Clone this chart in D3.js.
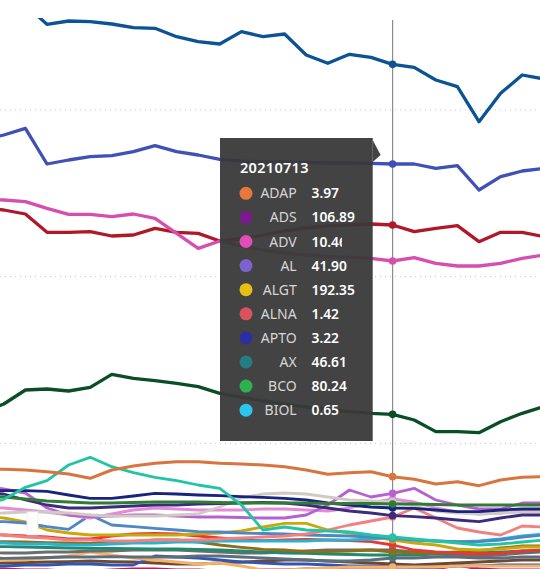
<!DOCTYPE html>
<html>
<head>
<meta charset="utf-8">
<script src="https://cdnjs.cloudflare.com/ajax/libs/d3/7.8.5/d3.min.js"></script>
<style>
    html, body { margin: 0; padding: 0; background: #fff; overflow: hidden; }
</style>
</head>
<body>
<script>
const width = 540;
const height = 569;

const dates = [
    "20210615", "20210616", "20210617", "20210618", "20210621", "20210622", "20210623",
    "20210624", "20210625", "20210628", "20210629", "20210630", "20210701", "20210702",
    "20210706", "20210707", "20210708", "20210709", "20210712", "20210713", "20210714",
    "20210715", "20210716", "20210719", "20210720", "20210721", "20210722"
];
const hoverDate = "20210713";
const gridValues = [100, 200, 300];

// big lines
const lineDarkBlue = [378, 372, 363, 351.4, 353.4, 353, 351.6, 349.4, 349, 344, 341, 339.6, 347, 344, 345.6, 333, 328, 333.4, 331.6, 327.4, 325.6, 318, 314, 293, 310, 321, 318.6];
const lineIndigo = [282, 285, 289, 267.6, 270, 272, 272.6, 275, 278.6, 275, 273, 270.4, 269.4, 268.8, 268.8, 268.5, 268.2, 268.2, 268, 267.6, 267.6, 265, 266.6, 252, 260, 263.4, 265];
const linePink = [246.6, 246, 245, 241, 237.4, 237.4, 236, 237.6, 235, 226, 217, 221.4, 218.4, 216, 214.2, 213, 212.1, 211.5, 211, 209.4, 211.4, 208, 206.4, 206.4, 208, 211, 213];
const lineCrimson = [241.2, 240, 237.6, 226.6, 226.6, 227, 224.4, 225, 229, 226.6, 226, 221.4, 222.6, 225, 227.4, 229.2, 230.4, 231, 231.6, 231, 227, 229, 230.6, 221, 226.6, 226.6, 224];
const lineForest = [118.8, 123.6, 132, 132.6, 131.4, 133.6, 141.4, 139, 137.6, 136, 134, 130, 127.8, 125.4, 123.6, 121.8, 120.3, 119, 118, 117.4, 114, 107, 107, 106.4, 113, 118, 122];

// crowded lines at the bottom
const lineOrange = [84.6, 84.4, 84, 83, 81.6, 79, 84, 86.4, 88, 89, 89, 88, 87.6, 87, 86, 84, 81.4, 82.4, 83, 80, 78.4, 75.6, 77, 74.6, 78, 79.6, 80];
const lineTeal = [63, 66.4, 73.6, 77.6, 87, 91.6, 86, 82.4, 79.6, 77.6, 75, 73, 63, 48, 49.8, 48, 47.4, 46.8, 45, 43.8, 42.6, 41.4, 40.2, 39, 39.6, 40.8, 42];
const lineNavy = [72, 71.6, 71.6, 71.2, 69, 67, 67, 68.4, 70, 69.6, 69, 68.6, 68, 67.6, 67, 66, 64.2, 63, 61.8, 61.2, 61, 60, 59, 59, 60, 60.6, 60.6];
const lineGreen = [68.4, 67.8, 66.6, 65.4, 64.8, 64.2, 64.2, 64.5, 64.8, 64.8, 64.8, 64.5, 64.2, 64.2, 64.2, 64.2, 63.9, 63.9, 63.9, 63.6, 63.6, 63.3, 63, 63, 63, 63, 63];
const linePurple = [70.8, 69.6, 66, 63, 61.2, 61.2, 61.8, 62.4, 63, 63, 63.6, 63.9, 64.2, 64.5, 64.2, 63, 61.2, 59.4, 58.2, 56.6, 56, 55.2, 54, 53, 55.2, 57, 57];
const lineSilver = [57.6, 58.2, 58.8, 58.8, 58.2, 57, 56.4, 56.4, 56.4, 57, 57.6, 61.8, 67.2, 69.6, 70.2, 69.6, 67.8, 66, 65.4, 65, 62.4, 59.4, 58.2, 57.6, 58.2, 58.8, 58.8];
const lineOrchid = [74.4, 72.6, 70.2, 61.2, 57, 56, 56.4, 57, 57, 56.4, 55.8, 55.8, 55.5, 55.2, 55.2, 57, 63, 72, 67.8, 70, 73, 66, 63, 60.6, 60.6, 64.2, 64.2];
const lineLightPink = [61.8, 61.2, 60, 58.8, 57, 55.2, 57.6, 60, 61.2, 60.6, 60, 60, 60, 60.6, 60.6, 60, 59.4, 61.2, 64.2, 66.6, 64.8, 61.2, 58.8, 57.6, 58.2, 59.4, 60];
const lineSalmon = [45.6, 45, 43.8, 43.2, 42, 42, 41.4, 41.4, 42, 42, 42, 42.6, 43.2, 43.8, 44.4, 45.6, 48, 51, 53.4, 55.8, 61.2, 55.2, 49.2, 46.8, 45, 50.4, 49.8];
const lineSteel = [53.4, 53, 52.2, 50, 48.4, 57, 51, 50, 49, 48, 47, 46.8, 46.2, 45.9, 45.6, 45, 44.7, 44.4, 43.8, 43, 42, 41.4, 41, 41, 42, 43.8, 45];
const lineGold = [56.4, 55.2, 52.8, 48, 46.2, 45, 45, 45, 45, 45, 45.6, 46.2, 47.4, 49.8, 52, 52, 48, 46.2, 44.4, 42, 40.2, 39, 36.6, 36, 36.6, 37.8, 37.8];
const lineRed = [45.6, 45, 44.4, 43.8, 42.6, 42.6, 44.4, 45.6, 46, 45.6, 44.4, 43.2, 42, 41.6, 42, 42.3, 42, 41.6, 41, 39, 36, 34.8, 34.2, 33.6, 34.2, 35.4, 36];
const lineBrown = [41.4, 41, 40.8, 40.4, 40.2, 40, 40.8, 41, 42, 42, 40.8, 39, 37.6, 36.4, 36, 35, 35, 35.4, 36, 34.8, 34.2, 34.2, 34.8, 35.4, 37.2, 38.4, 38.4];
const lineSeaGreen = [38.1, 38, 37.8, 37.5, 37.2, 37, 36.9, 36.8, 36.6, 36.6, 36.4, 36, 35.4, 34.8, 34.2, 34, 33.6, 33.3, 33, 33, 33, 33.6, 34.2, 34.2, 34.8, 35.4, 35.4];
const linePeach = [29.4, 30, 30, 31.2, 32.4, 34.8, 33, 31.2, 30, 28.8, 27.6, 28.2, 26.4, 24, 24, 24.6, 25.2, 25.8, 25.8, 25.8, 25.8, 25.8, 26.4, 26.4, 26.4, 26.4, 26.4];
const lineSlate = [31.2, 31, 31.2, 31.5, 31.8, 31.8, 32, 31.8, 31.8, 31.8, 32.4, 32.4, 31.8, 31.2, 30.6, 30, 29.4, 29.4, 30, 31.2, 31.2, 31.8, 31.8, 31.2, 31.2, 31.8, 31.8];
const lineGrey = [34.8, 34.2, 34.2, 34.8, 34.8, 35.4, 35.4, 36, 36, 36, 35.4, 34.8, 34.2, 34.2, 34.8, 35.4, 36, 36, 36, 36, 34.8, 33.6, 33, 32.4, 33, 34.2, 34.8];
const lineRoyal = [26.4, 26.4, 27, 27, 27.6, 27.6, 27, 27, 32.4, 31.8, 31.2, 30, 28.8, 28.2, 27.6, 27.6, 27, 26.4, 26.4, 26, 25.8, 25.8, 26.4, 26.4, 27, 27, 27];
const lineUmber = [28, 28.2, 28.5, 28.8, 29, 29.4, 29, 28.8, 28.2, 27.6, 27.6, 28.2, 28.8, 29.4, 30, 30, 29.4, 28.8, 28.2, 27.6, 27, 27.6, 28.2, 28.8, 29.4, 30, 30];
const lineRaspberry = [24.6, 24.6, 24, 24, 23.4, 23.4, 24, 24.6, 24.6, 24, 24, 23.4, 23.4, 24, 24, 24.6, 24.6, 24, 24, 24, 24, 24.6, 27, 24.6, 24, 24, 24];
const lineCyan = [40.2, 40.2, 39.6, 39.6, 39, 39, 39.6, 40.2, 40.2, 40.8, 40.8, 41.4, 41.4, 41.4, 41.4, 41.4, 42, 42, 42.6, 43.2, 42, 41.4, 40.8, 41.4, 42.6, 44.4, 45.6];

// tooltip rows
const tipNames = ["ADAP", "ADS", "ADV", "AL", "ALGT", "ALNA", "APTO", "AX", "BCO", "BIOL"];
const tipValues = ["3.97", "106.89", "10.46", "41.90", "192.35", "1.42", "3.22", "46.61", "80.24", "0.65"];
const tipColors = ["#E8773C", "#7B1A8C", "#E04DB8", "#7C62D0", "#E6BE14", "#D9535D", "#2B2FA3", "#237E82", "#2DB14E", "#2AC6F0"];

// drawing order: bottom first
const series = [
    { values: lineRaspberry, color: "#C2185B", w: 2.8 },
    { values: lineUmber, color: "#6B4A2E", w: 2.8 },
    { values: lineRoyal, color: "#3355B5", w: 2.8 },
    { values: linePeach, color: "#F4B26A", w: 2.8 },
    { values: lineSlate, color: "#5D6D7E", w: 2.8 },
    { values: lineGrey, color: "#6D6D6D", w: 2.8 },
    { values: lineSeaGreen, color: "#1F8A70", w: 2.8 },
    { values: lineBrown, color: "#8D6E1A", w: 2.8 },
    { values: lineRed, color: "#E53935", w: 2.8 },
    { values: lineCyan, color: "#29B3D3", w: 2.8 },
    { values: lineGold, color: "#C9A80E", w: 2.8 },
    { values: lineSteel, color: "#4F86C6", w: 2.8 },
    { values: lineSalmon, color: "#F28080", w: 2.8 },
    { values: lineLightPink, color: "#E58AD6", w: 2.8 },
    { values: lineOrchid, color: "#B561CF", w: 2.8 },
    { values: lineSilver, color: "#CFCBC4", w: 2.8 },
    { values: linePurple, color: "#3D2B7E", w: 2.8 },
    { values: lineNavy, color: "#1A237E", w: 2.8 },
    { values: lineGreen, color: "#2E7D32", w: 3.2 },
    { values: lineTeal, color: "#22C4A6", w: 2.8 },
    { values: lineOrange, color: "#D9743C", w: 3 },
    { values: lineForest, color: "#0B4D26", w: 3.3 },
    { values: lineCrimson, color: "#B0182A", w: 3.3 },
    { values: linePink, color: "#D64FAE", w: 3.3 },
    { values: lineIndigo, color: "#3F51B5", w: 3.3 },
    { values: lineDarkBlue, color: "#0B5394", w: 3.3 }
];

const x = d3.scalePoint().domain(dates).range([-17.8, 543.8]);
const y = d3.scaleLinear().domain([0, 300]).range([610, 110]);

const svg = d3
    .select("body")
    .append("svg")
    .attr("width", width)
    .attr("height", height)
    .style("display", "block")
    .style("font-family", "'Segoe UI', 'Noto Sans', sans-serif");

svg.append("defs")
    .append("clipPath")
    .attr("id", "plot")
    .append("rect")
    .attr("x", 0)
    .attr("y", 18)
    .attr("width", width)
    .attr("height", height - 18);

// dotted gridlines
svg.selectAll(".grid")
    .data(gridValues)
    .enter()
    .append("line")
    .attr("x1", 0)
    .attr("x2", width)
    .attr("y1", (d) => y(d))
    .attr("y2", (d) => y(d))
    .style("stroke", "#c4c4c4")
    .style("stroke-width", 1)
    .style("stroke-dasharray", "1,4");

const line = d3
    .line()
    .x((d, i) => x(dates[i]))
    .y((d) => y(d));

const plot = svg.append("g").attr("clip-path", "url(#plot)");

series.forEach(function (s) {
    plot.append("path")
        .attr("d", line(s.values))
        .style("fill", "none")
        .style("stroke", s.color)
        .style("stroke-width", s.w)
        .style("stroke-linejoin", "round");
});

// odd little white box over the left lines
svg.append("rect")
    .attr("x", 27)
    .attr("y", 512)
    .attr("width", 11)
    .attr("height", 23)
    .style("fill", "#fff")
    .style("stroke", "#ececec")
    .style("stroke-width", 0.8);

// hover line and dots
const hi = dates.indexOf(hoverDate);
svg.append("line")
    .attr("x1", x(hoverDate))
    .attr("x2", x(hoverDate))
    .attr("y1", 20)
    .attr("y2", height)
    .style("stroke", "#8c8c8c")
    .style("stroke-width", 1.2);

series.forEach(function (s) {
    svg.append("circle")
        .attr("cx", x(hoverDate))
        .attr("cy", y(s.values[hi]))
        .attr("r", 3.8)
        .style("fill", s.color);
});

// tooltip
const tip = svg.append("g");
tip.append("rect")
    .attr("x", 220)
    .attr("y", 138)
    .attr("width", 152.7)
    .attr("height", 303)
    .style("fill", "#393939")
    .style("opacity", 0.95);
tip.append("path")
    .attr("d", "M372.7,140L380.6,155L372.7,162Z")
    .style("fill", "#393939")
    .style("opacity", 0.95);

tip.append("text")
    .attr("x", 240)
    .attr("y", 173)
    .text(hoverDate)
    .style("fill", "#ffffff")
    .style("font-size", "14.5px")
    .style("font-weight", 600)
    .style("letter-spacing", "0.3px");

svg.select("defs")
    .append("clipPath")
    .attr("id", "cut")
    .append("rect")
    .attr("x", 300)
    .attr("y", 0)
    .attr("width", 42)
    .attr("height", height);

for (let i = 0; i < tipNames.length; i++) {
    const cy = 193.3 + i * 24.1;
    tip.append("circle")
        .attr("cx", 246)
        .attr("cy", cy)
        .attr("r", 6.5)
        .style("fill", tipColors[i]);
    tip.append("text")
        .attr("x", 296.7)
        .attr("y", cy + 5)
        .attr("text-anchor", "end")
        .text(tipNames[i])
        .style("fill", "#d6d6d6")
        .style("font-size", "14px");
    const val = tip.append("text")
        .attr("x", 311.5)
        .attr("y", cy + 5)
        .text(tipValues[i])
        .style("fill", "#ffffff")
        .style("font-size", "13.8px")
        .style("font-weight", 600);
    if (tipNames[i] === "ADV") val.attr("clip-path", "url(#cut)");
}
</script>
</body>
</html>
